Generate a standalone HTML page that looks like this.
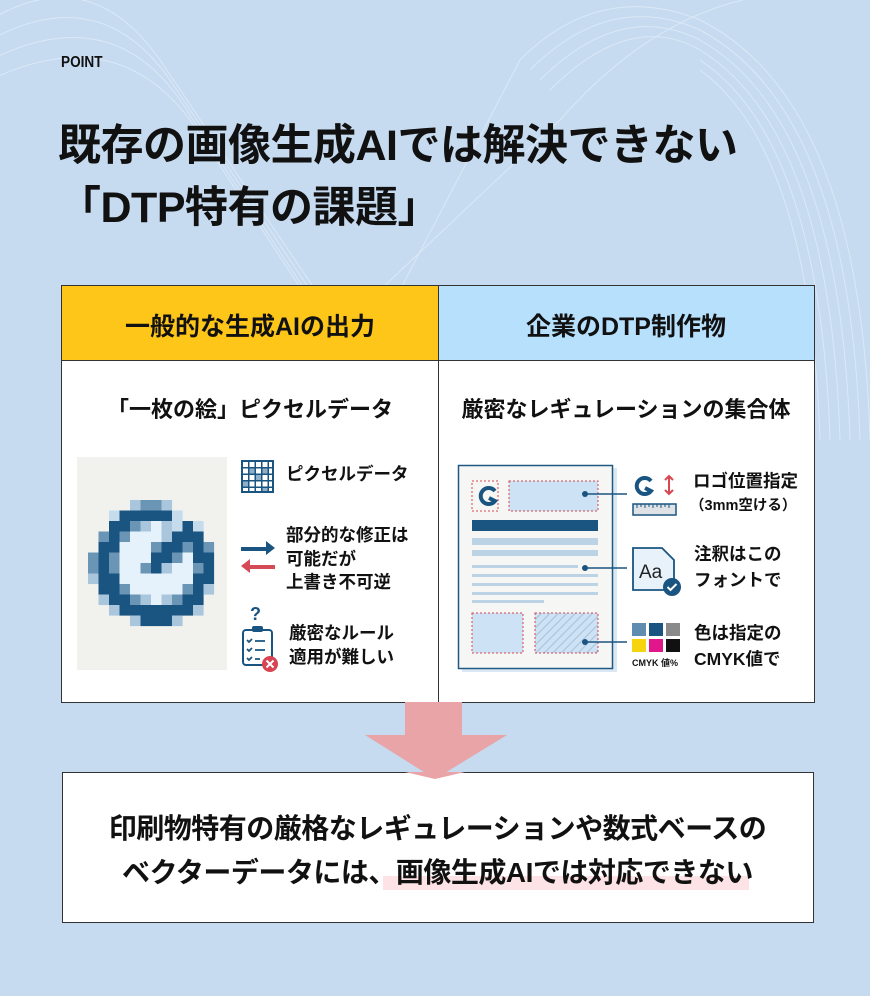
<!DOCTYPE html>
<html><head><meta charset="utf-8"><style>
*{margin:0;padding:0;box-sizing:border-box}
body{width:870px;height:996px;background:#c6dbf0;position:relative;overflow:hidden;font-family:"Liberation Sans","Noto Sans CJK JP",sans-serif;color:#111}
.t{position:absolute;white-space:nowrap;font-weight:700}
</style></head><body>
<svg width="870" height="996" style="position:absolute;left:0;top:0" fill="none">
 <g stroke="#e4eef9" stroke-width="1" opacity="0.7">
  <path d="M-10 20 Q90 -40 160 60 L430 460"/>
  <path d="M-10 40 Q100 -20 170 80 L430 470"/>
  <path d="M-10 60 Q110 0 180 100 L430 480"/>
  <path d="M-10 80 Q115 20 190 120 L420 470"/>
  <path d="M880 0 Q700 -40 560 120 L380 290"/>
  <path d="M870 440 Q860 100 700 20 Q600 -20 520 60 L400 290"/>
  <path d="M860 440 Q850 110 700 30 Q610 -10 530 70"/>
  <path d="M850 440 Q840 120 700 40 Q620 0 540 80"/>
  <path d="M840 440 Q830 130 700 50 Q630 10 550 90"/>
  <path d="M830 440 Q820 140 700 60"/>
  <path d="M820 440 Q810 150 700 70"/>
 </g>
 <rect x="61.5" y="285.5" width="753" height="417" fill="#fff" stroke="#333"/>
 <rect x="62" y="286" width="376" height="74" fill="#fdc619"/>
 <rect x="438" y="286" width="376" height="74" fill="#b7e0fc"/>
 <line x1="62" y1="360.5" x2="814" y2="360.5" stroke="#333"/>
 <line x1="438.5" y1="286" x2="438.5" y2="702" stroke="#333"/>
 <rect x="77" y="457" width="150" height="213" fill="#f1f2ee"/>
 <g id="px"></g>
 <rect x="241" y="460" width="33" height="33" fill="#1a5480"/>
 <g fill="#fff">
  <rect x="243" y="462" width="5" height="5"/><rect x="249.5" y="462" width="5" height="5"/><rect x="256" y="462" width="5" height="5"/><rect x="262.5" y="462" width="5" height="5"/><rect x="269" y="462" width="3" height="5"/>
  <rect x="243" y="468.5" width="5" height="5"/><rect x="249.5" y="468.5" width="5" height="5" fill="#8fb0c9"/><rect x="256" y="468.5" width="5" height="5"/><rect x="262.5" y="468.5" width="5" height="5" fill="#8fb0c9"/><rect x="269" y="468.5" width="3" height="5"/>
  <rect x="243" y="475" width="5" height="5"/><rect x="249.5" y="475" width="5" height="5"/><rect x="256" y="475" width="5" height="5" fill="#8fb0c9"/><rect x="262.5" y="475" width="5" height="5"/><rect x="269" y="475" width="3" height="5"/>
  <rect x="243" y="481.5" width="5" height="5" fill="#8fb0c9"/><rect x="249.5" y="481.5" width="5" height="5"/><rect x="256" y="481.5" width="5" height="5"/><rect x="262.5" y="481.5" width="5" height="5"/><rect x="269" y="481.5" width="3" height="5"/>
  <rect x="243" y="488" width="5" height="3"/><rect x="249.5" y="488" width="5" height="3"/><rect x="256" y="488" width="5" height="3"/><rect x="262.5" y="488" width="5" height="3" fill="#8fb0c9"/><rect x="269" y="488" width="3" height="3"/>
 </g>
 <path d="M241 547 H266 V541 L275 548 L266 555 V551 H241Z" fill="#1a5480"/>
 <path d="M275 565 H250 V559 L241 566 L250 573 V569 H275Z" fill="#d44a55"/>
 <text x="250" y="620" font-size="18" font-weight="700" fill="#1a5480" font-family="Liberation Sans">?</text>
 <rect x="243" y="630" width="29" height="35" rx="3" stroke="#1a5480" stroke-width="2"/>
 <rect x="252" y="626" width="11" height="6" rx="2" fill="#1a5480"/>
 <g stroke="#1a5480" stroke-width="1.8"><path d="M247 640 l2 2 l3 -3 M255 641 h10 M247 649 l2 2 l3 -3 M255 650 h10 M247 658 l2 2 l3 -3 M255 659 h5"/></g>
 <circle cx="270" cy="664" r="8" fill="#d94452"/>
 <path d="M266.5 660.5 l7 7 M273.5 660.5 l-7 7" stroke="#fff" stroke-width="2"/>
 <rect x="462" y="468" width="155" height="204" fill="#dbe8f4"/>
 <rect x="458.5" y="465.5" width="154" height="203" fill="#f6f7f5" stroke="#1f5883" stroke-width="1.5"/>
 <rect x="472" y="481" width="26" height="30" stroke="#d8464f" stroke-dasharray="2 2"/>
 <path d="M495 491 A8 8 0 1 0 495 501 L489 498" stroke="#1a5480" stroke-width="4"/>
 <rect x="509" y="481" width="89" height="30" fill="#cde3f5" stroke="#d8464f" stroke-dasharray="2 2"/>
 <rect x="472" y="520" width="126" height="11" fill="#1a5480"/>
 <rect x="472" y="538" width="126" height="7" fill="#bcd3e6"/>
 <rect x="472" y="550" width="126" height="6" fill="#bcd3e6"/>
 <rect x="472" y="565" width="106" height="3" fill="#bcd3e6"/>
 <rect x="472" y="574" width="126" height="3" fill="#bcd3e6"/>
 <rect x="472" y="583" width="126" height="3" fill="#bcd3e6"/>
 <rect x="472" y="592" width="126" height="3" fill="#bcd3e6"/>
 <rect x="472" y="600" width="72" height="3" fill="#bcd3e6"/>
 <rect x="472" y="613" width="51" height="40" fill="#cde3f5" stroke="#d8464f" stroke-dasharray="2 2"/>
 <defs><pattern id="h" width="6" height="6" patternUnits="userSpaceOnUse" patternTransform="rotate(45)"><rect width="6" height="6" fill="#cde3f5"/><line x1="0" y1="0" x2="0" y2="6" stroke="#a7c0d6" stroke-width="2"/></pattern></defs>
 <rect x="535" y="613" width="63" height="40" fill="url(#h)" stroke="#d8464f" stroke-dasharray="2 2"/>
 <g stroke="#1a5480" stroke-width="1.5"><line x1="585" y1="494" x2="627" y2="494"/><line x1="585" y1="568" x2="627" y2="568"/><line x1="585" y1="642" x2="627" y2="642"/></g>
 <g fill="#1a5480"><circle cx="585" cy="494" r="3"/><circle cx="585" cy="568" r="3"/><circle cx="585" cy="642" r="3"/></g>
 <path d="M651 481 A8 8 0 1 0 651 491 L645 488" stroke="#1a5480" stroke-width="4"/>
 <path d="M669 476 v18 M665 480 l4 -4 l4 4 M665 490 l4 4 l4 -4" stroke="#d8464f" stroke-width="2"/>
 <rect x="633" y="504" width="43" height="11" fill="#dfe3e6" stroke="#1a5480" stroke-width="1.5"/>
 <path d="M637 504v4M641 504v3M645 504v4M649 504v3M653 504v4M657 504v3M661 504v4M665 504v3M669 504v4" stroke="#1a5480"/>
 <path d="M633 548 H662 L674 560 V590 H633Z" fill="#e8f2fb" stroke="#1a5480" stroke-width="1.8"/>
 <text x="639" y="578" font-size="19" fill="#222" font-family="Liberation Sans">Aa</text>
 <circle cx="672" cy="587" r="9" fill="#1a5480"/>
 <path d="M667.5 587 l3 3 l6 -6" stroke="#fff" stroke-width="2"/>
 <rect x="632" y="623" width="14" height="13" fill="#5f8db0"/><rect x="649" y="623" width="14" height="13" fill="#1a5480"/><rect x="666" y="623" width="14" height="13" fill="#8a8a8a"/>
 <rect x="632" y="639" width="14" height="13" fill="#f6d410"/><rect x="649" y="639" width="14" height="13" fill="#e0168a"/><rect x="666" y="639" width="14" height="13" fill="#111"/>
 <path d="M405 702 H462 V735 H507 L435 779 L365 735 H405Z" fill="#e8a4a6"/>
 <rect x="62.5" y="772.5" width="751" height="150" fill="#fff" stroke="#333"/>
 <path d="M405 772 H465 L435 779Z" fill="#e8a4a6"/>
 <rect x="383" y="876" width="366" height="14" fill="#fde3e6"/>
</svg>
<div class="t" style="left:61px;top:54px;font-size:16px;transform:scaleX(0.85);transform-origin:left">POINT</div>
<div class="t" style="left:58px;top:115px;font-size:43px;letter-spacing:-0.5px;line-height:62px">既存の画像生成AIでは解決できない<br>「DTP特有の課題」</div>
<div class="t" style="left:62px;top:307px;width:376px;text-align:center;font-size:25px">一般的な生成AIの出力</div>
<div class="t" style="left:438px;top:307px;width:376px;text-align:center;font-size:25px">企業のDTP制作物</div>
<div class="t" style="left:62px;top:392px;width:376px;text-align:center;font-size:22px">「一枚の絵」ピクセルデータ</div>
<div class="t" style="left:438px;top:392px;width:376px;text-align:center;font-size:22px">厳密なレギュレーションの集合体</div>
<div class="t" style="left:286px;top:461px;font-size:17.5px">ピクセルデータ</div>
<div class="t" style="left:286px;top:524px;font-size:17.5px;line-height:23.5px">部分的な修正は<br>可能だが<br>上書き不可逆</div>
<div class="t" style="left:289px;top:621px;font-size:17.5px;line-height:24px">厳密なルール<br>適用が難しい</div>
<div class="t" style="left:693px;top:468px;font-size:17.5px">ロゴ位置指定</div>
<div class="t" style="left:690px;top:494px;font-size:14.5px">（3mm空ける）</div>
<div class="t" style="left:694px;top:541px;font-size:17.5px;line-height:26px">注釈はこの<br>フォントで</div>
<div class="t" style="left:694px;top:620px;font-size:17.5px;line-height:26px">色は指定の<br>CMYK値で</div>
<div class="t" style="left:632px;top:656px;font-size:9px">CMYK 値%</div>
<div class="t" style="left:62px;top:807px;width:751px;text-align:center;font-size:28px;line-height:44px;letter-spacing:-0.5px">印刷物特有の厳格なレギュレーションや数式ベースの<br>ベクターデータには、画像生成AIでは対応できない</div>
<script>
var rows=["....lmml....","..LDDDDDL...","..DDmlWlLDL.",".mDmWWWlDDD.",".DDWWWmDDmDm","mDmWWWDDmWDD","mDmWWmDlWWmD","lDDWWWWWWWDD",".DDmWWWWWmDl",".lDDmlWlmDD.","..lDDDDDDDl.","....lDDDl..."];
var c={D:"#1a5480",m:"#6b95b5",l:"#a9c6dc",L:"#c5dced",W:"#e6f2fb"};
var s="";rows.forEach(function(r,y){for(var x=0;x<12;x++){var k=r[x];if(c[k])s+='<rect x="'+(88+x*10.5)+'" y="'+(500+y*10.5)+'" width="10.6" height="10.6" fill="'+c[k]+'"/>';}});
document.getElementById("px").innerHTML=s;
</script>
</body></html>
